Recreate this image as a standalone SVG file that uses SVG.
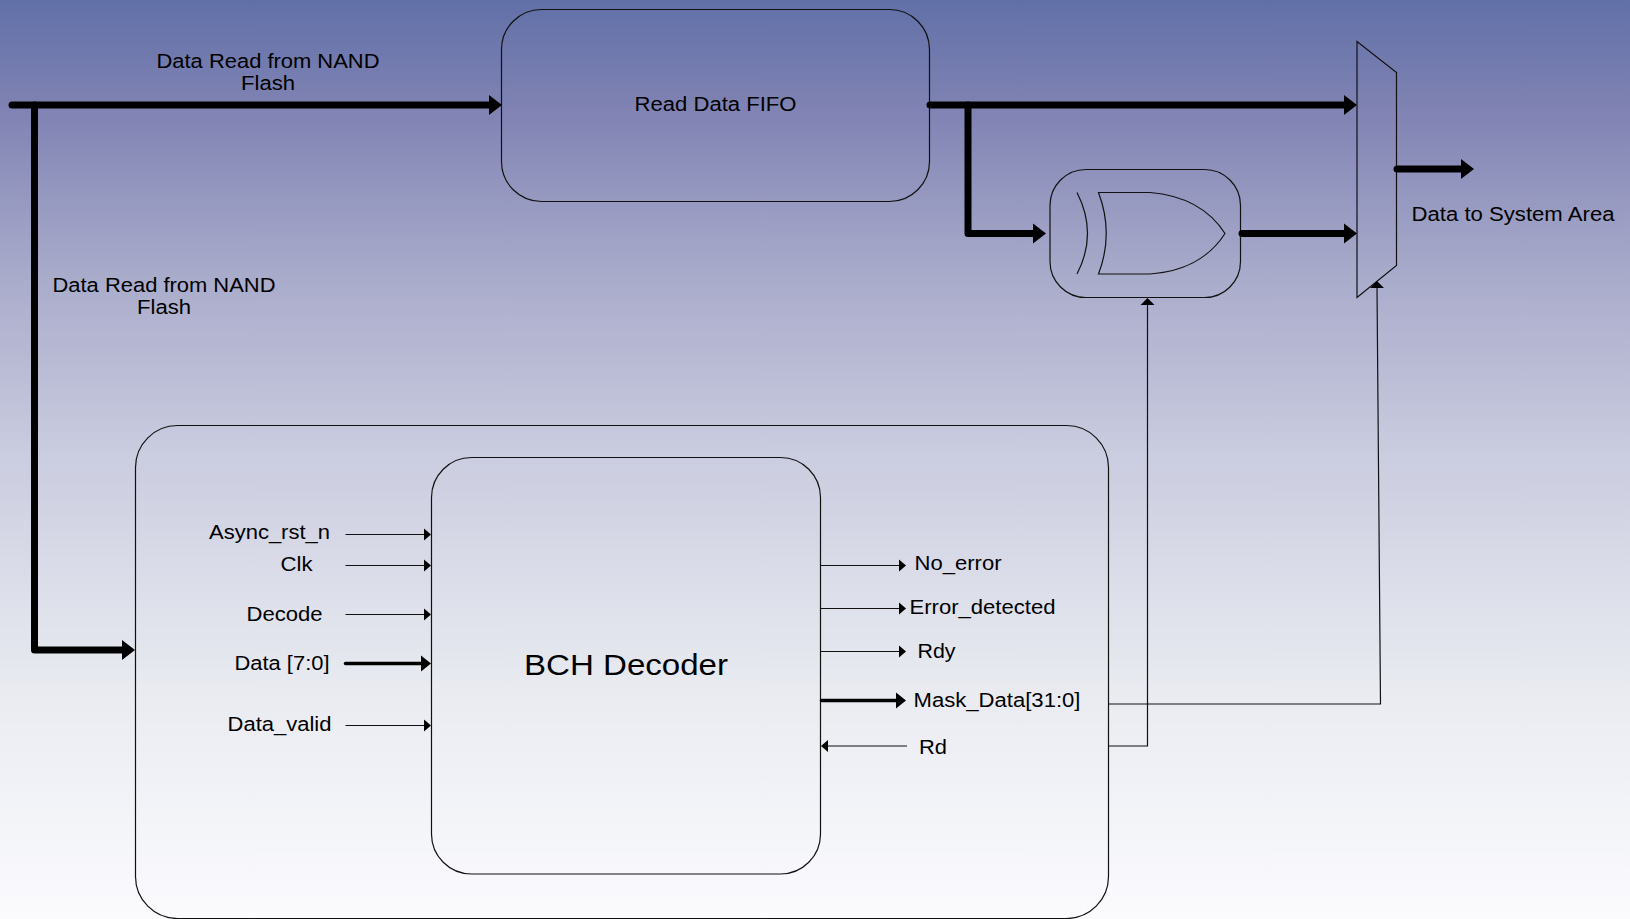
<svg xmlns="http://www.w3.org/2000/svg" width="1630" height="919" viewBox="0 0 1630 919">
<style>
.box{fill:none;stroke:#111;stroke-width:1.2}
.bus{fill:none;stroke:#000;stroke-width:7;stroke-linecap:round;stroke-linejoin:round}
.mid{fill:none;stroke:#000;stroke-width:3.5;stroke-linecap:round}
.thin{fill:none;stroke:#111;stroke-width:1.2}
text{font-family:"Liberation Sans",Arial,sans-serif;font-size:20px;fill:#000;text-anchor:middle}
</style>
<defs>
<linearGradient id="bg" x1="0" y1="0" x2="0" y2="1">
<stop offset="0" stop-color="#6170a8"/>
<stop offset=".12" stop-color="#8083b3"/>
<stop offset=".3" stop-color="#a9abcb"/>
<stop offset=".5" stop-color="#cbcde0"/>
<stop offset=".75" stop-color="#e9ebf1"/>
<stop offset="1" stop-color="#fbfbfe"/>
</linearGradient>
<marker id="hb" markerUnits="userSpaceOnUse" markerWidth="14" markerHeight="22" refX="1" refY="11" orient="auto"><path d="M0,1 L13,11 L0,21 Z" fill="#000"/></marker>
<marker id="hm" markerUnits="userSpaceOnUse" markerWidth="11" markerHeight="18" refX="1" refY="9" orient="auto"><path d="M0,1 L10,9 L0,17 Z" fill="#000"/></marker>
<marker id="ht" markerUnits="userSpaceOnUse" markerWidth="8" markerHeight="14" refX="1" refY="7" orient="auto"><path d="M0,1 L7,7 L0,13 Z" fill="#000"/></marker>
<marker id="hu" markerUnits="userSpaceOnUse" markerWidth="9" markerHeight="16" refX="1" refY="8" orient="auto"><path d="M0,1 L7,8 L0,15 Z" fill="#000"/></marker>
</defs>
<rect width="1630" height="919" fill="url(#bg)"/>

<g id="read-data-fifo"><rect class="box" x="501.5" y="9.5" width="428" height="192" rx="40" ry="40"/><text x="715.500" y="111" textLength="162" lengthAdjust="spacingAndGlyphs">Read Data FIFO</text></g>
<g id="xor-gate"><rect class="box" x="1050" y="169.5" width="190.500" height="128" rx="36" ry="36"/>
<path class="box" d="M1098.5,192.5 H1150 C1180,195 1208,207 1225,233.5 C1208,260 1180,272 1150,274 H1098.5 Q1114,233.5 1098.5,192.5 Z"/>
<path class="box" d="M1077,192.5 Q1098,233.5 1077,274"/></g>
<g id="mux"><path class="box" d="M1357,41.5 L1396.5,72.5 V265.5 L1357,297.5 Z"/></g>
<g id="bch-wrapper"><rect class="box" x="135.5" y="425.5" width="973" height="493" rx="42" ry="42"/></g>
<g id="bch-decoder"><rect class="box" x="431.5" y="457.5" width="389" height="416.500" rx="40" ry="40"/><text x="626" y="675" style="font-size:30px" textLength="204" lengthAdjust="spacingAndGlyphs">BCH Decoder</text></g>

<g id="connectors">
<path class="bus" d="M12,105 H490" marker-end="url(#hb)"/>
<path class="bus" d="M34.500,105 V650 H123" marker-end="url(#hb)"/>
<path class="bus" d="M930,105 H1345" marker-end="url(#hb)"/>
<path class="bus" d="M968,105 V233.500 H1034" marker-end="url(#hb)"/>
<path class="bus" d="M1242,233.500 H1345" marker-end="url(#hb)"/>
<path class="bus" d="M1397,169 H1462" marker-end="url(#hb)"/>
<path class="thin" d="M345.500,534.500 H425" marker-end="url(#ht)"/>
<path class="thin" d="M345.500,565.500 H425" marker-end="url(#ht)"/>
<path class="thin" d="M345.500,614.500 H425" marker-end="url(#ht)"/>
<path class="mid" d="M345.500,663.500 H422" marker-end="url(#hm)"/>
<path class="thin" d="M345.500,725.500 H425" marker-end="url(#ht)"/>
<path class="thin" d="M820.500,565.500 H900" marker-end="url(#ht)"/>
<path class="thin" d="M820.500,608.500 H900" marker-end="url(#ht)"/>
<path class="thin" d="M820.500,651.500 H900" marker-end="url(#ht)"/>
<path class="mid" d="M821.500,700.500 H897" marker-end="url(#hm)"/>
<path class="thin" d="M907,746 H827" marker-end="url(#ht)"/>
<path class="thin" d="M1108.500,746 H1147.500 V304" marker-end="url(#hu)"/>
<path class="thin" d="M1108.500,704 H1380.500 L1377,287" marker-end="url(#hu)"/>
</g>

<g id="labels">
<text x="268" y="67.500" textLength="223" lengthAdjust="spacingAndGlyphs">Data Read from NAND</text>
<text x="268" y="89.500" textLength="54" lengthAdjust="spacingAndGlyphs">Flash</text>
<text x="164" y="291.500" textLength="223" lengthAdjust="spacingAndGlyphs">Data Read from NAND</text>
<text x="164" y="313.500" textLength="54" lengthAdjust="spacingAndGlyphs">Flash</text>
<text x="1513" y="221" textLength="203" lengthAdjust="spacingAndGlyphs">Data to System Area</text>
<text x="269.500" y="539" textLength="121" lengthAdjust="spacingAndGlyphs">Async_rst_n</text>
<text x="296.500" y="571" textLength="32" lengthAdjust="spacingAndGlyphs">Clk</text>
<text x="284.500" y="621" textLength="76" lengthAdjust="spacingAndGlyphs">Decode</text>
<text x="282" y="670" textLength="95" lengthAdjust="spacingAndGlyphs">Data [7:0]</text>
<text x="279.500" y="731" textLength="104" lengthAdjust="spacingAndGlyphs">Data_valid</text>
<text x="958" y="570" textLength="87" lengthAdjust="spacingAndGlyphs">No_error</text>
<text x="982.500" y="614" textLength="146" lengthAdjust="spacingAndGlyphs">Error_detected</text>
<text x="936.500" y="658" textLength="38" lengthAdjust="spacingAndGlyphs">Rdy</text>
<text x="997" y="707" textLength="167" lengthAdjust="spacingAndGlyphs">Mask_Data[31:0]</text>
<text x="933" y="754" textLength="28" lengthAdjust="spacingAndGlyphs">Rd</text>
</g>
</svg>
